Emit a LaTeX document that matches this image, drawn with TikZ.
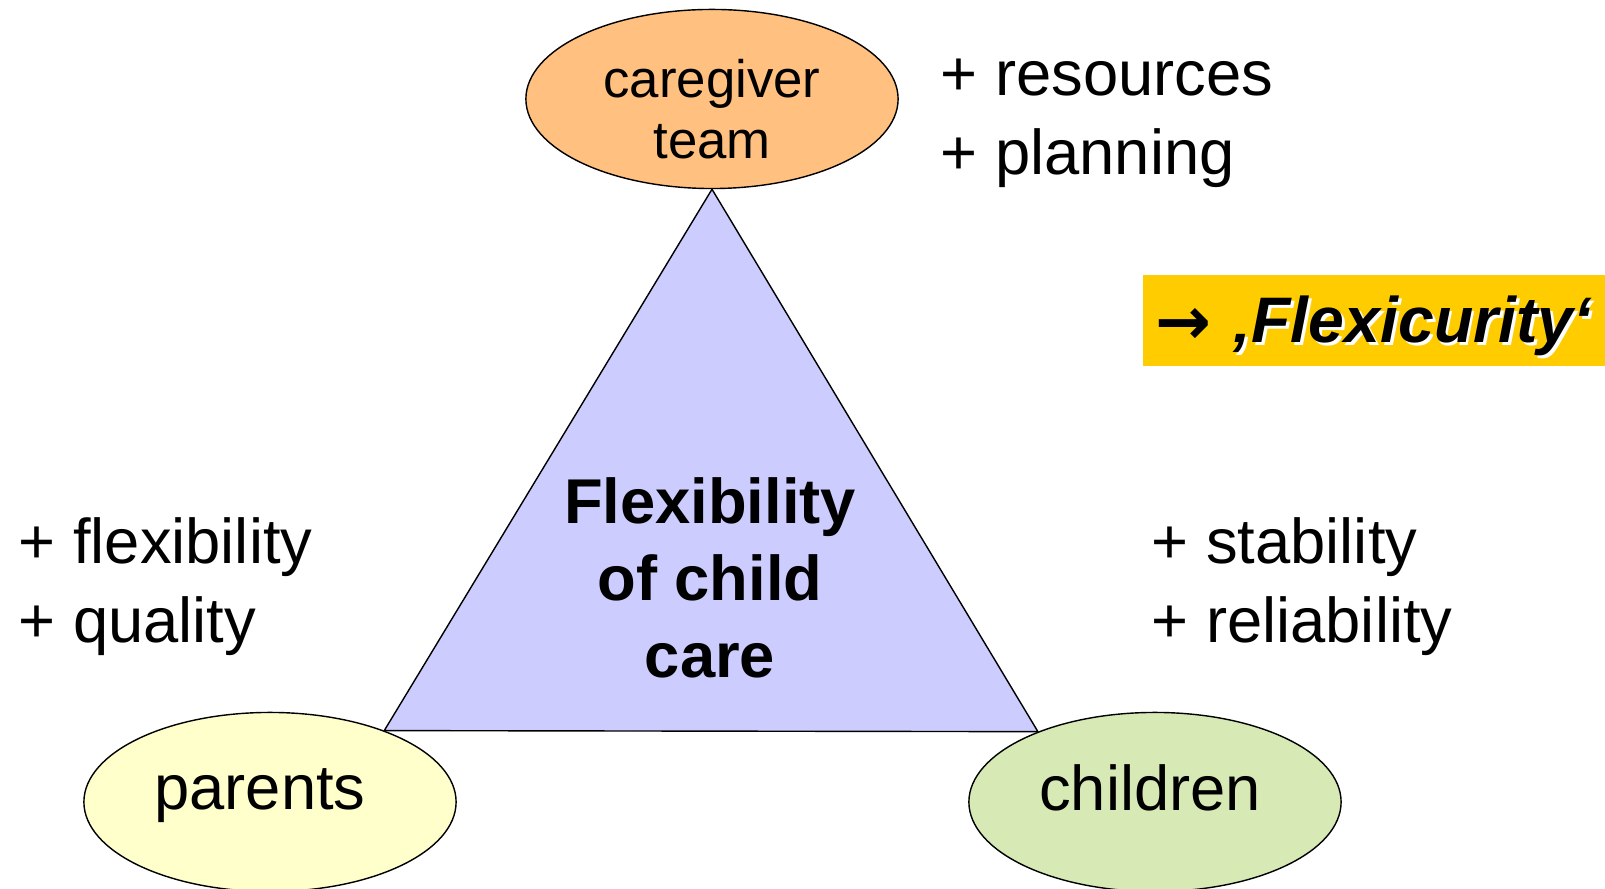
\documentclass[tikz,border=0pt]{standalone}
\usepackage{fontspec}
\setmainfont{Liberation Sans}
\newfontfamily\arrowfont{DejaVu Sans}
\usepackage{tikz}
\usetikzlibrary{shapes.geometric,positioning}
\definecolor{teamorange}{RGB}{255,192,128}
\definecolor{parentyellow}{RGB}{255,255,204}
\definecolor{childgreen}{RGB}{215,234,181}
\definecolor{careblue}{RGB}{204,204,255}
\definecolor{flexgold}{RGB}{255,204,0}
\tikzset{
	bubble/.style={ellipse, draw, thin, minimum width=3.72cm, minimum height=1.79cm, inner sep=0pt},
	bubbletext/.style={align=center, inner sep=0pt, font=\fontsize{18}{22}\selectfont},
	plus/.style={anchor=west, align=left, inner sep=0pt, font=\fontsize{18}{22.5}\selectfont},
}
\newcommand{\shadowed}[1]{\makebox[0pt][l]{\hspace{0.8pt}\raisebox{-0.8pt}{\color{white}#1}}#1}

\begin{document}
\begin{tikzpicture}[
			x=0.01cm,
			y=-0.01cm,
			line join=round
		]
		\useasboundingbox (0,0) rectangle (1605,889);
		% the three parties
		\node[bubble, fill=teamorange] (team) at (712,99) {};
		\node[bubble, fill=parentyellow] (parents) at (270,802) {};
		\node[bubble, fill=childgreen] (children) at (1155,802) {};
		\node[bubbletext, font=\fontsize{15}{17.5}\selectfont] (teamtext) at (712,109) {caregiver\\team};
		\node[bubbletext] (parentstext) at (260,796) {parents};
		\node[bubbletext] (childrentext) at (1150,788) {children};

		% triangle
		\coordinate (apex) at (team.south);
		\coordinate (left) at (parents.32);
		\coordinate (right) at (children.149);
		\draw[thin, fill=careblue] (apex) -- (left) -- (right) -- cycle;
		\node[align=center, inner sep=0pt, font=\fontsize{18}{22}\bfseries] (care) at (710,578) {Flexibility\\of child\\care};

		% gains
		\node[plus] (teamplus) at (940,123) {+ resources\\+ planning};
		\node[plus] (parentsplus) at (18,587) {+ flexibility\\+ quality};
		\node[plus] (childrenplus) at (1151,587) {+ stability\\+ reliability};

		% flexicurity
		\fill[flexgold] (1143,275) rectangle (1605,366);
		\node[anchor=west, inner sep=0pt, font=\fontsize{19}{22}\arrowfont\bfseries] (arrow) at (1155,326) {→};
		\node[anchor=west, inner sep=0pt, font=\fontsize{18.3}{22}\bfseries\itshape] (flex) at (1233,327) {\shadowed{‚Flexicurity‘}};
	\end{tikzpicture}
\end{document}
